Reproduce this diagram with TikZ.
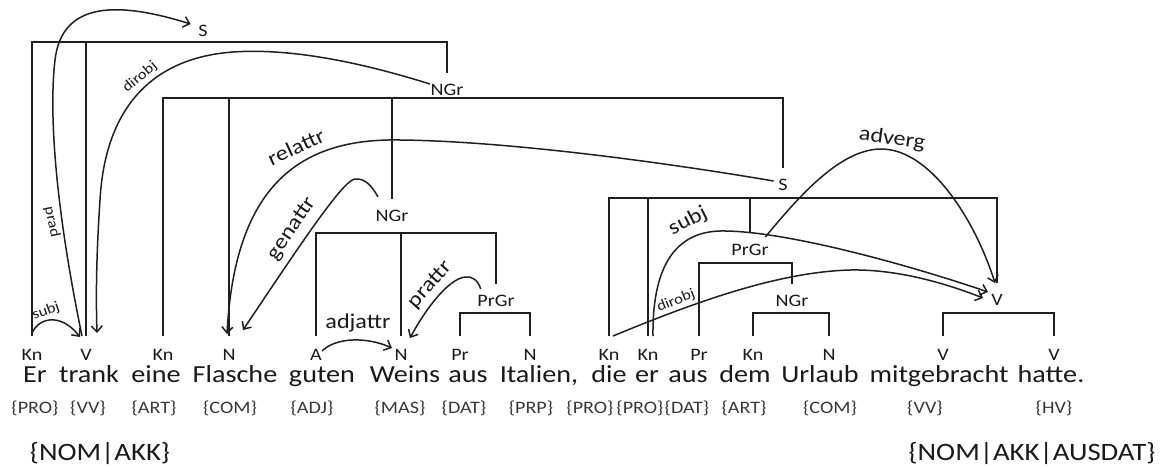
\documentclass[tikz,border=0pt]{standalone}
\usepackage{fontspec}
\setmainfont{Carlito}[FakeStretch=1.15]
\usetikzlibrary{arrows.meta}
\begin{document}
\begin{tikzpicture}[x=1pt,y=-1pt,
  line width=1.5pt, draw=black!88, text=black!90,
  cat/.style={font=\fontsize{17.5}{20}\selectfont, anchor=base, inner sep=0pt, text height=12pt, text depth=0pt, outer ysep=12pt},
  wrd/.style={font=\fontsize{24.5}{28}\selectfont, anchor=base, inner sep=0pt},
  btm/.style={font=\fontsize{25}{30}\selectfont, anchor=base, inner sep=0pt},
  tag/.style={font=\fontsize{17.5}{20}\selectfont, anchor=base, inner sep=0pt, text=black!78},
  tl/.style={font=\fontsize{17.5}{20}\selectfont, inner sep=0pt, text height=12pt, text depth=0pt, outer ysep=10pt},
  rel/.style={font=\fontsize{21}{24}\selectfont, inner sep=0pt},
  srel/.style={font=\fontsize{14.5}{16}\selectfont, inner sep=0pt},
  arc/.style={-{Straight Barb[length=6pt,width=11pt]}},
]
\useasboundingbox (0,0) rectangle (1166,466);
% category labels
\node[cat] (c1) at (32,360) {Kn};
\node[cat] (c2) at (86,360) {V};
\node[cat] (c3) at (163,360) {Kn};
\node[cat] (c4) at (229,360) {N};
\node[cat] (c5) at (316,360) {A};
\node[cat] (c6) at (401,360) {N};
\node[cat] (c7) at (460,360) {Pr};
\node[cat] (c8) at (530,360) {N};
\node[cat] (c9) at (609,360) {Kn};
\node[cat] (c10) at (648,360) {Kn};
\node[cat] (c11) at (699,360) {Pr};
\node[cat] (c12) at (753,360) {Kn};
\node[cat] (c13) at (829,360) {N};
\node[cat] (c14) at (943,360) {V};
\node[cat] (c15) at (1054,360) {V};
% words
\node[wrd] (w1) at (35,382) {Er};
\node[wrd] (w2) at (89,382) {trank};
\node[wrd] (w3) at (156,382) {eine};
\node[wrd] (w4) at (235,382) {Flasche};
\node[wrd] (w5) at (322,382) {guten};
\node[wrd] (w6) at (405,382) {Weins};
\node[wrd] (w7) at (468,382) {aus};
\node[wrd] (w8) at (539,382) {Italien,};
\node[wrd] (w9) at (609,382) {die};
\node[wrd] (w10) at (647,382) {er};
\node[wrd] (w11) at (688,382) {aus};
\node[wrd] (w12) at (745,382) {dem};
\node[wrd] (w13) at (820,382) {Urlaub};
\node[wrd] (w14) at (939,382) {mitgebracht};
\node[wrd] (w15) at (1051,382) {hatte.};
% tags
\node[tag] (t1) at (35,413) {\{PRO\}};
\node[tag] (t2) at (88,413) {\{VV\}};
\node[tag] (t3) at (154,413) {\{ART\}};
\node[tag] (t4) at (230,413) {\{COM\}};
\node[tag] (t5) at (312,413) {\{ADJ\}};
\node[tag] (t6) at (400,413) {\{MAS\}};
\node[tag] (t7) at (464,413) {\{DAT\}};
\node[tag] (t8) at (531,413) {\{PRP\}};
\node[tag] (t9) at (590,413) {\{PRO\}};
\node[tag] (t10) at (640,413) {\{PRO\}};
\node[tag] (t11) at (687,413) {\{DAT\}};
\node[tag] (t12) at (744,413) {\{ART\}};
\node[tag] (t13) at (830,413) {\{COM\}};
\node[tag] (t14) at (925,413) {\{VV\}};
\node[tag] (t15) at (1054,413) {\{HV\}};
\node[btm] (nk) at (100,460) {\{NOM|AKK\}};
\node[btm] (nka) at (1032,460) {\{NOM|AKK|AUSDAT\}};
% tree labels
\node[tl] (St) at (203,30) {S};
\node[tl] (N1) at (447,89) {NGr};
\node[tl] (S2) at (783,184) {S};
\node[tl] (N2) at (392,215) {NGr};
\node[tl] (P1) at (496,300) {PrGr};
\node[tl] (P2) at (750,249) {PrGr};
\node[tl] (N3) at (792,300) {NGr};
\node[tl] (Vg) at (997,299) {V};
% bar levels
\coordinate (bSt) at (0,42);
\coordinate (bN1) at (0,98);
\coordinate (bN2) at (0,233);
\coordinate (bP1) at (0,313);
\coordinate (bS2) at (0,198);
\coordinate (bP2) at (0,263);
\coordinate (bN3) at (0,313);
\coordinate (bV) at (0,313);
% tree
\draw (c1.north) -- (c1.north |- bSt) -- (N1.north |- bSt) -- (N1.north);
\draw (c2.north) -- (c2.north |- bSt);
\draw (c3.north) -- (c3.north |- bN1) -- (S2.north |- bN1) -- (S2.north);
\draw (c4.north) -- (c4.north |- bN1);
\draw (N2.north) -- (N2.north |- bN1);
\draw (c5.north) -- (c5.north |- bN2) -- (P1.north |- bN2) -- (P1.north);
\draw (c6.north) -- (c6.north |- bN2);
\draw (c7.north) -- (c7.north |- bP1) -- (c8.north |- bP1) -- (c8.north);
\draw (c9.north) -- (c9.north |- bS2) -- (Vg.north |- bS2) -- (Vg.north);
\draw (c10.north) -- (c10.north |- bS2);
\draw (P2.north) -- (P2.north |- bS2);
\draw (c11.north) -- (c11.north |- bP2) -- (N3.north |- bP2) -- (N3.north);
\draw (c12.north) -- (c12.north |- bN3) -- (c13.north |- bN3) -- (c13.north);
\draw (c14.north) -- (c14.north |- bV) -- (c15.north |- bV) -- (c15.north);
% relations
\draw[arc] ([yshift=3pt]c1.north) .. controls (40,316) and (62,314) .. ([shift={(-6pt,-1pt)}]c2.north);
\node[srel, rotate=20] (lsubj1) at (46,311) {subj};
\draw[arc] ([xshift=-4pt]c2.north) .. controls (58,220) and (48,120) .. (55,60) .. controls (62,0) and (120,2) .. ([shift={(-7pt,6pt)}]St.west);
\node[srel, rotate=-78] (lprad) at (52,222) {prad};
\draw[arc] ([shift={(0pt,5pt)}]N1.west) .. controls (360,62) and (290,48) .. (233,52) .. controls (150,58) and (105,110) .. (100,200) .. controls (96,260) and (96,300) .. ([shift={(11pt,3pt)}]c2.north);
\node[srel, rotate=40] (ldir1) at (140,77) {dirobj};
\draw[arc] ([shift={(-4pt,3pt)}]S2.west) .. controls (650,160) and (500,141) .. (400,140) .. controls (300,138) and (235,185) .. ([shift={(-2pt,2pt)}]c4.north);
\node[rel, rotate=25] (lrel) at (296,147) {relattr};
\draw[arc] ([shift={(-14pt,2pt)}]N2.north) .. controls (372,186) and (365,178) .. (355,179) .. controls (343,180) and (300,245) .. ([shift={(14pt,6pt)}]c4.north);
\node[rel, rotate=56] (lgen) at (292,229) {genattr};
\draw[arc] ([shift={(6pt,9pt)}]c5.base) .. controls (335,338) and (365,336) .. ([shift={(-9pt,12pt)}]c6.base);
\node[rel] (ladj) at (358,323) {adjattr};
\draw[arc] ([shift={(4pt,11pt)}]P1.west) .. controls (478,280) and (472,276) .. (465,277) .. controls (448,279) and (425,310) .. ([shift={(9pt,-2pt)}]c6.north);
\node[rel, rotate=48] (lpr) at (430,285) {prattr};
\draw[arc] ([xshift=5pt]c10.north) .. controls (652,260) and (680,232) .. (720,231) .. controls (780,230) and (900,262) .. ([shift={(-9pt,-9pt)}]Vg.north);
\node[rel, rotate=27] (lsubj2) at (688,221) {subj};
\draw[arc] ([xshift=4pt]c9.north) .. controls (700,300) and (780,272) .. (850,270) .. controls (900,269) and (950,285) .. ([shift={(-14pt,-15pt)}]Vg.north);
\node[srel, rotate=22] (ldir2) at (676,301) {dirobj};
\draw[arc] ([shift={(-4pt,12pt)}]P2.east) .. controls (800,195) and (840,150) .. (880,149) .. controls (930,148) and (975,220) .. ([xshift=-2pt]Vg.north);
\node[rel, rotate=-8] (ladv) at (892,139) {adverg};
\end{tikzpicture}
\end{document}
